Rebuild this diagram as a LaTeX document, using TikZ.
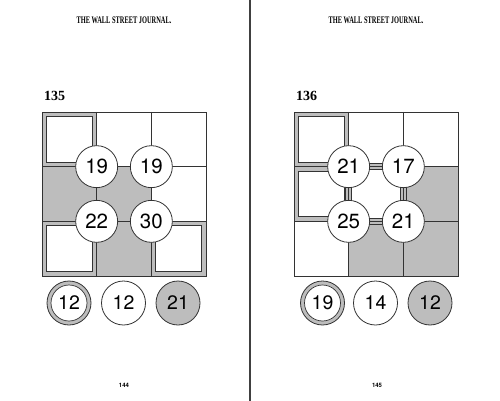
\documentclass[tikz,border=0pt]{standalone}
\usepackage{fontspec}
\setmainfont{Liberation Serif}
\newfontfamily\numfont{TeX Gyre Heros}
\definecolor{pzgray}{HTML}{BDBDBD}
\definecolor{pzline}{HTML}{333333}
\definecolor{divline}{HTML}{404040}
\tikzset{
  gridline/.style={draw=pzline, line width=0.9pt},
  graycell/.style={fill=pzgray},
  innerwhite/.style={fill=white, draw=pzline, line width=0.7pt},
  numcirc/.style={circle, draw=pzline, fill=white, line width=0.8pt, minimum size=42pt, inner sep=0pt, font=\numfont\fontsize{20.5}{20.5}\selectfont},
  ansplain/.style={circle, draw=pzline, fill=white, line width=0.8pt, minimum size=44pt, inner sep=0pt, font=\numfont\fontsize{19.5}{19.5}\selectfont},
  ansgray/.style={ansplain, fill=pzgray},
  ansring/.style={circle, draw=pzline, fill=pzgray, line width=0.8pt, minimum size=44pt, inner sep=0pt},
  ansinner/.style={circle, draw=pzline, fill=white, line width=0.7pt, minimum size=36pt, inner sep=0pt, font=\numfont\fontsize{19.5}{19.5}\selectfont},
  band/.style={draw=pzline, line width=6.6pt},
  bandfill/.style={draw=pzgray, line width=5pt},
  header/.style={font=\bfseries\fontsize{10}{10}\selectfont},
  puznum/.style={font=\bfseries\fontsize{14}{14}\selectfont, anchor=west},
  pagenum/.style={font=\numfont\bfseries\fontsize{6}{6}\selectfont}
}
\newcommand{\pzc}{54.667}
\begin{document}
\begin{tikzpicture}[x=1pt, y=-1pt]
\useasboundingbox (0,0) rectangle (500,401);
\fill[white] (0,0) rectangle (500,401);
% divider
\draw[divline, line width=2pt] (250,0) coordinate (dtop) -- (250,401) coordinate (dbot);
% headers
\node[header] (hl) at (124,20) {\scalebox{0.64}[1]{THE WALL STREET JOURNAL.}};
\node[header] (hr) at (376,20) {\scalebox{0.64}[1]{THE WALL STREET JOURNAL.}};
\node[puznum] (p135) at (40.5,96) {135};
\node[puznum] (p136) at (292.5,96) {136};
\node[pagenum] (n144) at (124,385) {144};
\node[pagenum] (n145) at (377,385) {145};

% ---------- Puzzle 135 ----------
\begin{scope}[shift={(42,112)}]
  % gray cells
  \fill[graycell] (0,\pzc) rectangle (2*\pzc,2*\pzc);
  \fill[graycell] (\pzc,2*\pzc) rectangle (2*\pzc,3*\pzc);
  % framed cells
  \fill[graycell] (0,0) rectangle (\pzc,\pzc);
  \draw[innerwhite] (4.5,4.5) rectangle (\pzc-4.5,\pzc-4.5);
  \fill[graycell] (0,2*\pzc) rectangle (\pzc,3*\pzc);
  \draw[innerwhite] (4.5,2*\pzc+4.5) rectangle (\pzc-4.5,3*\pzc-4.5);
  \fill[graycell] (2*\pzc,2*\pzc) rectangle (3*\pzc,3*\pzc);
  \draw[innerwhite] (2*\pzc+4.5,2*\pzc+4.5) rectangle (3*\pzc-4.5,3*\pzc-4.5);
  % grid
  \draw[gridline] (0,0) rectangle (3*\pzc,3*\pzc);
  \draw[gridline] (\pzc,0) -- (\pzc,3*\pzc) (2*\pzc,0) -- (2*\pzc,3*\pzc)
                  (0,\pzc) -- (3*\pzc,\pzc) (0,2*\pzc) -- (3*\pzc,2*\pzc);
  % clue circles
  \node[numcirc] (a11) at (\pzc,\pzc) {19};
  \node[numcirc] (a12) at (2*\pzc,\pzc) {19};
  \node[numcirc] (a21) at (\pzc,2*\pzc) {22};
  \node[numcirc] (a22) at (2*\pzc,2*\pzc) {30};
  % answer circles
  \node[ansring] (ar1) at (27,191) {};
  \node[ansinner] (ai1) at (27,191) {12};
  \node[ansplain] (ar2) at (81.5,191) {12};
  \node[ansgray] (ar3) at (136,191) {21};
\end{scope}

% ---------- Puzzle 136 ----------
\begin{scope}[shift={(294,112)}]
  \coordinate (b11) at (\pzc,\pzc);
  \coordinate (b12) at (2*\pzc,\pzc);
  \coordinate (b21) at (\pzc,2*\pzc);
  \coordinate (b22) at (2*\pzc,2*\pzc);
  % gray cells
  \fill[graycell] (2*\pzc,\pzc) rectangle (3*\pzc,3*\pzc);
  \fill[graycell] (\pzc,2*\pzc) rectangle (2*\pzc,3*\pzc);
  % framed cells
  \fill[graycell] (0,0) rectangle (\pzc,2*\pzc);
  \draw[innerwhite] (4.5,4.5) rectangle (\pzc-4.5,\pzc-4.5);
  \draw[innerwhite] (4.5,\pzc+4.5) rectangle (\pzc-4.5,2*\pzc-4.5);
  % bands between circles
  \foreach \s/\t in {b11/b12, b12/b22, b22/b21, b21/b11} {
    \draw[band] (\s) -- (\t);
    \draw[bandfill] (\s) -- (\t);
  }
  % grid
  \draw[gridline] (0,0) rectangle (3*\pzc,3*\pzc);
  \draw[gridline] (\pzc,0) -- (\pzc,3*\pzc) (2*\pzc,0) -- (2*\pzc,3*\pzc)
                  (0,\pzc) -- (3*\pzc,\pzc) (0,2*\pzc) -- (3*\pzc,2*\pzc);
  % clue circles
  \node[numcirc] (c11) at (b11) {21};
  \node[numcirc] (c12) at (b12) {17};
  \node[numcirc] (c21) at (b21) {25};
  \node[numcirc] (c22) at (b22) {21};
  % answer circles
  \node[ansring] (br1) at (28.5,191) {};
  \node[ansinner] (bi1) at (28.5,191) {19};
  \node[ansplain] (br2) at (81.5,191) {14};
  \node[ansgray] (br3) at (136,191) {12};
\end{scope}
\end{tikzpicture}
\end{document}
